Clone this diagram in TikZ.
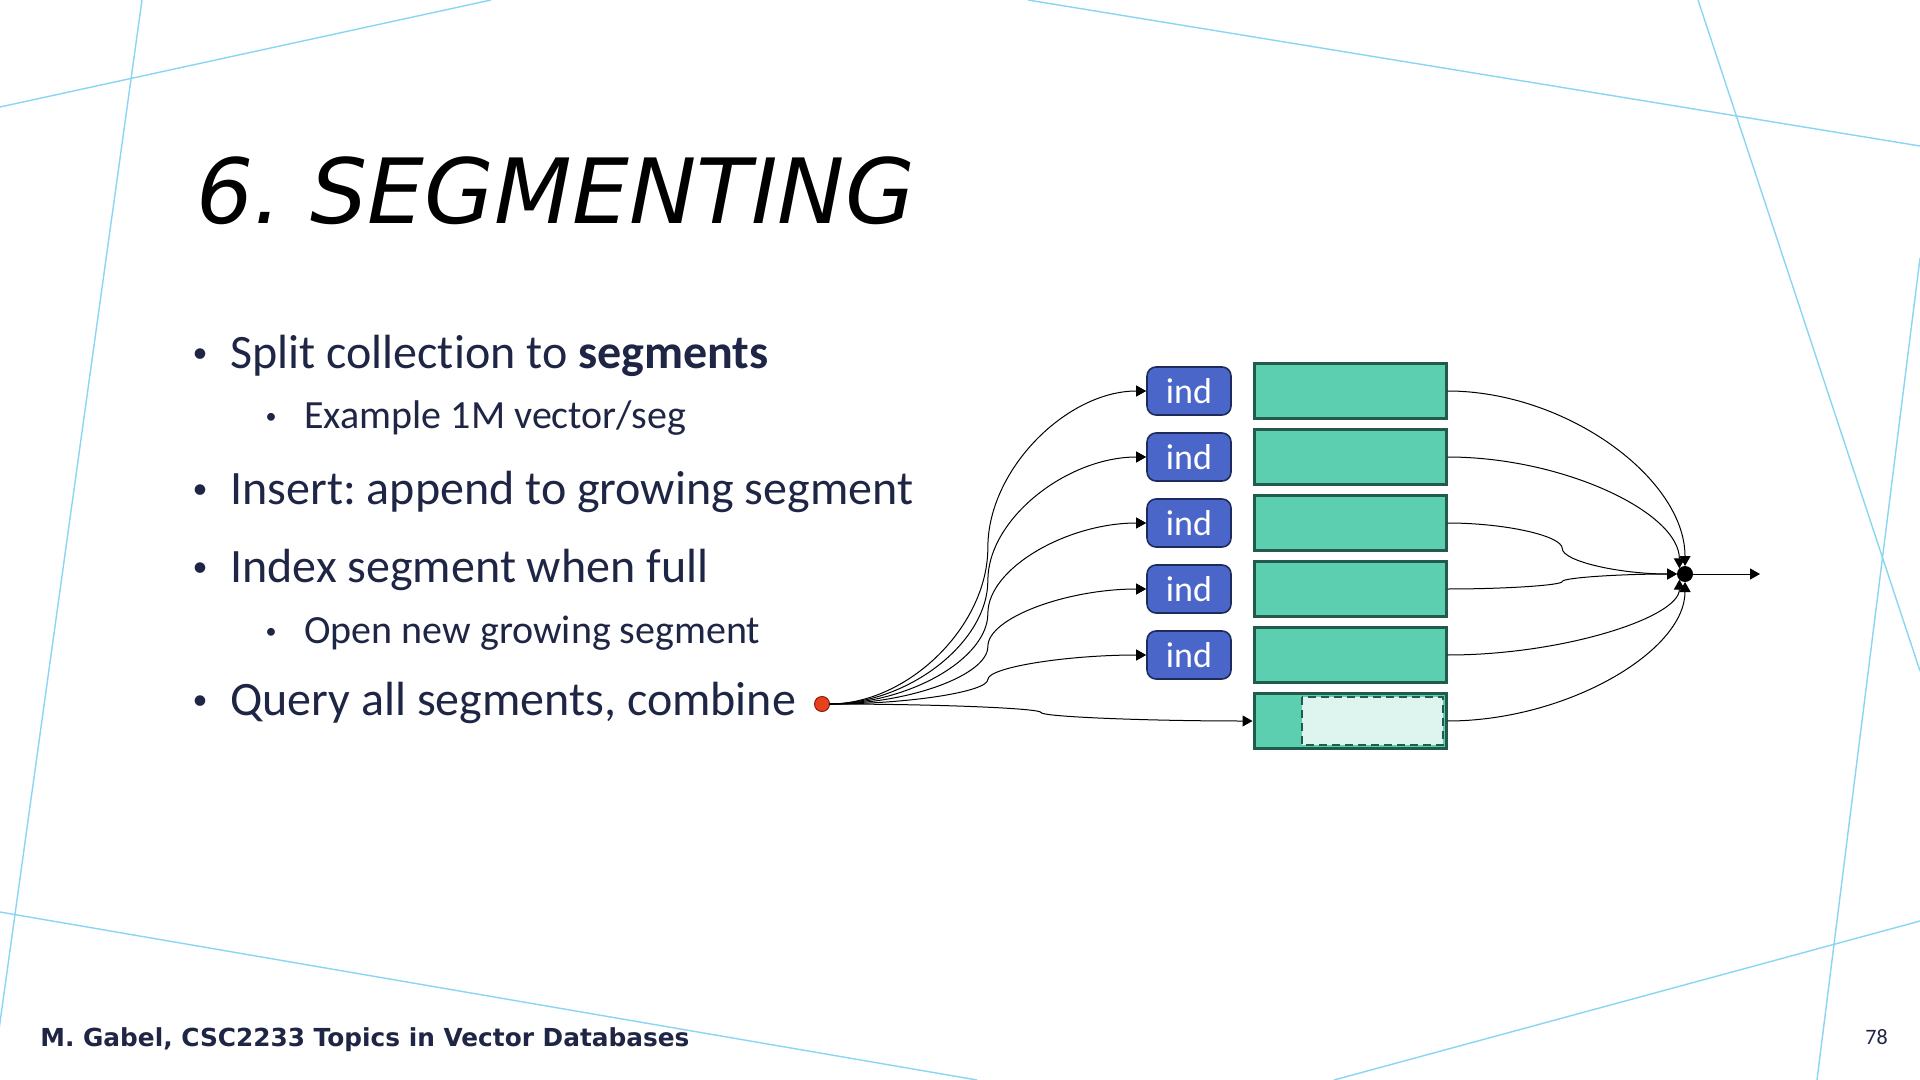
\documentclass[tikz,border=0pt]{standalone}
\usepackage{fontspec}
\setmainfont{Carlito}[Ligatures=NoCommon]
\newfontfamily\titlefont{DejaVu Sans}
\usetikzlibrary{arrows.meta,calc}
\frenchspacing

\definecolor{bgline}{HTML}{8AD6F2}
\definecolor{navy}{HTML}{1F2645}
\definecolor{indfill}{HTML}{4A66C8}
\definecolor{indline}{HTML}{1E2B5C}
\definecolor{segfill}{HTML}{5CCFB0}
\definecolor{segline}{HTML}{225A4B}
\definecolor{segempty}{HTML}{DDF5EE}
\definecolor{queryred}{HTML}{E8401C}
\definecolor{querydark}{HTML}{8A1E0C}

\begin{document}
\begin{tikzpicture}[x=0.5pt,y=-0.5pt,>={Triangle[length=5pt,width=5.5pt]},
  bg line/.style={bgline,line width=0.7pt},
  item/.style={anchor=base west,inner sep=0pt,text=navy,font=\fontsize{24}{24}\selectfont},
  subitem/.style={item,font=\fontsize{20}{20}\selectfont},
  dot/.style={anchor=base,inner sep=0pt,text=navy,font=\fontsize{15}{15}\selectfont},
  subdot/.style={dot,font=\fontsize{11}{11}\selectfont},
  ind node/.style={draw=indline,fill=indfill,rounded corners=4.5pt,line width=0.8pt,minimum width=42pt,minimum height=24pt,inner sep=0pt,text=white,font=\fontsize{18}{18}\selectfont},
  seg node/.style={draw=segline,fill=segfill,line width=1.5pt,minimum width=96pt,minimum height=27.5pt,inner sep=0pt},
  conn/.style={->,line width=0.5pt},
  sbend/.style={to path={let \p1=(\tikztostart), \p2=(\tikztotarget) in
    .. controls ({0.75*\x1+0.25*\x2},\y1) and ({0.5*\x1+0.5*\x2},{0.75*\y1+0.25*\y2})
    .. ({0.5*\x1+0.5*\x2},{0.5*\y1+0.5*\y2})
    .. controls ({0.5*\x1+0.5*\x2},{0.25*\y1+0.75*\y2}) and ({0.25*\x1+0.75*\x2},\y2)
    .. (\tikztotarget) \tikztonodes}},
  lbend/.style={to path={let \p1=(\tikztostart), \p2=(\tikztotarget) in
    .. controls ({0.5*\x1+0.5*\x2},\y1) and (\x2,{0.5*\y1+0.5*\y2})
    .. (\tikztotarget) \tikztonodes}}]

	%slide frame
	\useasboundingbox (0,0) rectangle (1920,1080);
	\clip (0,0) rectangle (1920,1080);
	\fill[white] (0,0) rectangle (1920,1080);

	%background lines
	\draw[bg line] (0,107) -- (491,0);
	\draw[bg line] (142,0) -- (-8,1080);
	\draw[bg line] (1028,0) -- (1920,146);
	\draw[bg line] (1698,0) -- (1920,671);
	\draw[bg line] (1920,258) -- (1817,1080);
	\draw[bg line] (0,912) -- (977,1080);
	\draw[bg line] (1334,1080) -- (1920,921);

	%title
	\node[anchor=base west, inner sep=0pt, font=\titlefont\itshape\fontsize{45}{45}\selectfont] (title) at (196,224) {6. SEGMENTING};

	%bullets
	\node[dot] (d1) at (200,363) {•};
	\node[item] (b1) at (230,369) {Split collection to \textbf{segments}};
	\node[subdot] (d2) at (271,423) {•};
	\node[subitem] (s1) at (304,428) {Example 1M vector/seg};
	\node[dot] (d3) at (200,498) {•};
	\node[item] (b2) at (230,504) {Insert: append to growing segment};
	\node[dot] (d4) at (200,576) {•};
	\node[item] (b3) at (230,582) {Index segment when full};
	\node[subdot] (d5) at (271,638) {•};
	\node[subitem] (s2) at (304,643) {Open new growing segment};
	\node[dot] (d6) at (200,709) {•};
	\node[item] (b4) at (230,715) {Query all segments, combine};

	%footer
	\node[anchor=base west, inner sep=0pt, text=navy, font=\titlefont\bfseries\fontsize{12.4}{12.4}\selectfont] (foot) at (40,1046) {M. Gabel, CSC2233 Topics in Vector Databases};
	\node[anchor=base west, inner sep=0pt, text=navy, font=\fontsize{11}{11}\selectfont] (page) at (1865,1044) {78};

	%indexes
	\node[ind node] (ind1) at (1189,391) {ind};
	\node[ind node] (ind2) at (1189,457) {ind};
	\node[ind node] (ind3) at (1189,523) {ind};
	\node[ind node] (ind4) at (1189,589) {ind};
	\node[ind node] (ind5) at (1189,655) {ind};

	%segments
	\node[seg node] (seg1) at (1350,391) {};
	\node[seg node] (seg2) at (1350,457) {};
	\node[seg node] (seg3) at (1350,523) {};
	\node[seg node] (seg4) at (1350,589) {};
	\node[seg node] (seg5) at (1350,655) {};
	\node[seg node] (seg6) at (1350,721) {};
	\draw[segline, fill=segempty, line width=1.2pt, dash pattern=on 4pt off 2.5pt] (1302,697) rectangle (1443,745);

	%query and merge points
	\node[circle, draw=querydark, fill=queryred, line width=0.5pt, minimum size=7.5pt, inner sep=0pt, outer sep=0pt] (query) at (822,704) {};
	\node[circle, fill=black, minimum size=8pt, inner sep=0pt, outer sep=0pt] (merge) at (1685,574) {};
	\coordinate (out) at (1760,574);

	%query fan out
	\draw[conn] (query.east) to[sbend] (ind1.west);
	\draw[conn] (query.east) to[sbend] (ind2.west);
	\draw[conn] (query.east) to[sbend] (ind3.west);
	\draw[conn] (query.east) to[sbend] (ind4.west);
	\draw[conn] (query.east) to[sbend] (ind5.west);
	\draw[conn] (query.east) to[sbend] (seg6.west);

	%combine results
	\draw[conn] (seg1.east) to[lbend] (merge.north);
	\draw[conn] (seg2.east) to[lbend] (merge.north west);
	\draw[conn] (seg3.east) to[sbend] (merge.west);
	\draw[conn] (seg4.east) to[sbend] (merge.west);
	\draw[conn] (seg5.east) to[lbend] (merge.south west);
	\draw[conn] (seg6.east) to[lbend] (merge.south);
	\draw[conn] (merge.east) -- (out);

\end{tikzpicture}
\end{document}
